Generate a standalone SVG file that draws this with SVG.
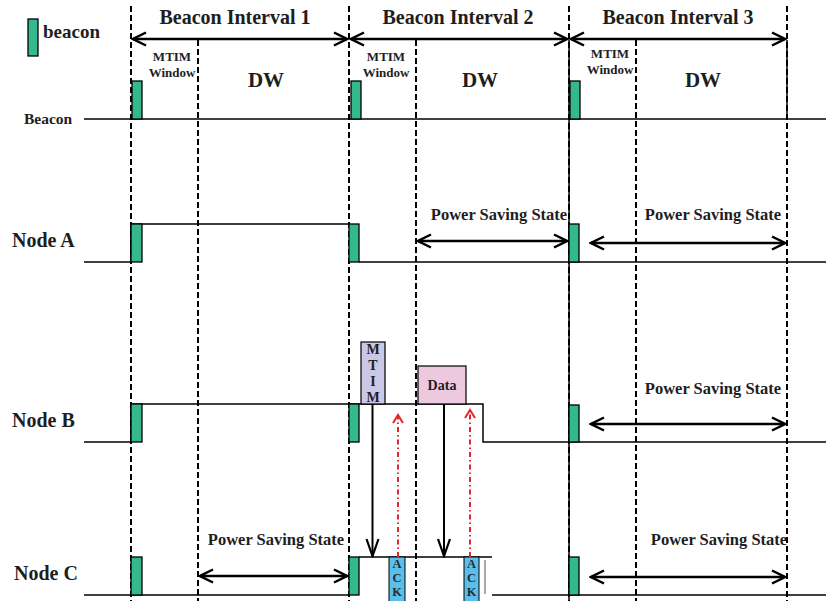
<svg xmlns="http://www.w3.org/2000/svg" width="826" height="601" viewBox="0 0 826 601">
<defs>
<style>
.t{font-family:"Liberation Serif","Times New Roman",serif;font-weight:bold;fill:#1e1e1e}
.hd{font-size:20px}
.mw{font-size:13px}
.dw{font-size:21px}
.ps{font-size:16.5px}
.nd{font-size:20px}
.vd{stroke:#000;stroke-width:2;stroke-dasharray:6 3;fill:none}
.sig{stroke:#000;stroke-width:1.5;fill:none}
.bc{fill:#34b98e;stroke:#000;stroke-width:1.3}
.arr{stroke:#000;stroke-width:2.5;fill:none;marker-start:url(#chev);marker-end:url(#chev)}
.dn{stroke:#000;stroke-width:2;fill:none;marker-end:url(#chevL)}
.up{stroke:#e3262b;stroke-width:2;stroke-dasharray:5 3 1.5 3;fill:none;marker-end:url(#chevR)}
.ack{fill:#5bbfea;stroke:#000;stroke-width:1}
.al{font-size:12.5px;fill:#2a2a2a}
</style>
<marker id="chev" viewBox="-15 -8 17 16" refX="0" refY="0" markerWidth="17" markerHeight="16" markerUnits="userSpaceOnUse" orient="auto-start-reverse">
<path d="M-13,-6.5 L0,0 L-13,6.5" fill="none" stroke="#000" stroke-width="2.5"/>
</marker>
<marker id="chevL" viewBox="-19 -8 21 16" refX="0" refY="0" markerWidth="21" markerHeight="16" markerUnits="userSpaceOnUse" orient="auto">
<path d="M-17,-6 L0,0 L-17,6" fill="none" stroke="#000" stroke-width="2.2"/>
</marker>
<marker id="chevR" viewBox="-10 -7 12 14" refX="0" refY="0" markerWidth="12" markerHeight="14" markerUnits="userSpaceOnUse" orient="auto">
<path d="M-8,-5 L0,0 L-8,5" fill="none" stroke="#e3262b" stroke-width="2"/>
</marker>
</defs>
<rect width="826" height="601" fill="#fff"/>

<g id="legend">
<rect class="bc" x="28" y="19" width="10" height="37"/>
<text class="t" x="43" y="38" font-size="19">beacon</text>
</g>

<g id="grid">
<line class="vd" x1="131" y1="6" x2="131" y2="601"/>
<line class="vd" x1="198" y1="40" x2="198" y2="601"/>
<line class="vd" x1="349" y1="6" x2="349" y2="601"/>
<line class="vd" x1="416" y1="40" x2="416" y2="601"/>
<line class="vd" x1="569" y1="6" x2="569" y2="601"/>
<line class="vd" x1="636" y1="40" x2="636" y2="601"/>
<line class="vd" x1="787" y1="6" x2="787" y2="601"/>
<line x1="569" y1="40" x2="569" y2="601" stroke="#000" stroke-width="1.5"/>
<line x1="787" y1="40" x2="787" y2="120" stroke="#000" stroke-width="1.5"/>
</g>

<g id="header">
<text class="t hd" x="235" y="24" text-anchor="middle">Beacon Interval 1</text>
<text class="t hd" x="458" y="24" text-anchor="middle">Beacon Interval 2</text>
<text class="t hd" x="678" y="24" text-anchor="middle">Beacon Interval 3</text>
<text class="t mw" x="172" y="61" text-anchor="middle">MTIM</text>
<text class="t mw" x="172" y="77" text-anchor="middle">Window</text>
<text class="t mw" x="386" y="61" text-anchor="middle">MTIM</text>
<text class="t mw" x="386" y="77" text-anchor="middle">Window</text>
<text class="t mw" x="610" y="58" text-anchor="middle">MTIM</text>
<text class="t mw" x="610" y="74" text-anchor="middle">Window</text>
<text class="t dw" x="266" y="87" text-anchor="middle">DW</text>
<text class="t dw" x="480" y="87" text-anchor="middle">DW</text>
<text class="t dw" x="703" y="87" text-anchor="middle">DW</text>
</g>

<g id="beacon-row">
<text class="t" x="24" y="124" font-size="15.5">Beacon</text>
<line class="sig" x1="84" y1="119" x2="826" y2="119"/>
<rect class="bc" x="132" y="81" width="10" height="38"/>
<rect class="bc" x="351" y="81" width="10" height="38"/>
<rect class="bc" x="570" y="81" width="10" height="38"/>
</g>

<g id="nodeA">
<text class="t nd" x="12" y="247">Node A</text>
<polyline class="sig" points="84,262 131,262 131,224 349,224"/>
<line class="sig" x1="359" y1="262" x2="826" y2="262"/>
<rect class="bc" x="131" y="224" width="11" height="38"/>
<rect class="bc" x="349" y="224" width="10" height="38"/>
<rect class="bc" x="569" y="224" width="10" height="38"/>
<text class="t ps" x="499" y="220" text-anchor="middle">Power Saving State</text>
<text class="t ps" x="713" y="220" text-anchor="middle">Power Saving State</text>
</g>

<g id="nodeB">
<text class="t nd" x="12" y="427">Node B</text>
<polyline class="sig" points="84,442 131,442 131,404 483,404 483,442 826,442"/>
<rect class="bc" x="131" y="404" width="11" height="38"/>
<rect class="bc" x="349" y="404" width="10" height="38"/>
<rect class="bc" x="569" y="405" width="10" height="37"/>
<g id="mtim-frame">
<rect x="361" y="342" width="24" height="62" fill="#c9c8e6" stroke="#000" stroke-width="1.2"/>
<text class="t" x="373" y="354" font-size="14" text-anchor="middle">M</text>
<text class="t" x="373" y="370" font-size="14" text-anchor="middle">T</text>
<text class="t" x="373" y="386" font-size="14" text-anchor="middle">I</text>
<text class="t" x="373" y="402" font-size="14" text-anchor="middle">M</text>
</g>
<g id="data-frame">
<rect x="418" y="366" width="48" height="38" fill="#ecc9de" stroke="#000" stroke-width="1.2"/>
<text class="t" x="442" y="390" font-size="14" text-anchor="middle">Data</text>
</g>
<text class="t ps" x="713" y="394" text-anchor="middle">Power Saving State</text>
</g>

<g id="nodeC">
<text class="t nd" x="14" y="580">Node C</text>
<line class="sig" x1="84" y1="595" x2="349" y2="595"/>
<line class="sig" x1="359" y1="557" x2="492" y2="557"/>
<line x1="485" y1="560" x2="485" y2="594" stroke="#555" stroke-width="1"/>
<line class="sig" x1="492" y1="595" x2="826" y2="595"/>
<rect class="bc" x="131" y="557" width="11" height="38"/>
<rect class="bc" x="349" y="557" width="10" height="38"/>
<rect class="bc" x="569" y="557" width="10" height="38"/>
<g id="ack1">
<rect class="ack" x="389" y="557" width="16" height="50"/>
<text class="t al" x="397" y="568" text-anchor="middle">A</text>
<text class="t al" x="397" y="582" text-anchor="middle">C</text>
<text class="t al" x="397" y="596" text-anchor="middle">K</text>
</g>
<g id="ack2">
<rect class="ack" x="464" y="557" width="15" height="50"/>
<text class="t al" x="471.500" y="568" text-anchor="middle">A</text>
<text class="t al" x="471.500" y="582" text-anchor="middle">C</text>
<text class="t al" x="471.500" y="596" text-anchor="middle">K</text>
</g>
<text class="t ps" x="276" y="545" text-anchor="middle">Power Saving State</text>
<text class="t ps" x="719" y="545" text-anchor="middle">Power Saving State</text>
</g>

<g id="connectors">
<line class="arr" x1="133" y1="39" x2="347" y2="39"/>
<line class="arr" x1="351" y1="39" x2="567" y2="39"/>
<line class="arr" x1="571" y1="39" x2="785" y2="39"/>
<line class="arr" x1="418" y1="241" x2="567" y2="241"/>
<line class="arr" x1="591" y1="243" x2="785" y2="243"/>
<line class="arr" x1="591" y1="424" x2="785" y2="424"/>
<line class="arr" x1="200" y1="576" x2="347" y2="576"/>
<line class="arr" x1="591" y1="577" x2="785" y2="577"/>
<line class="dn" x1="372.500" y1="404" x2="372.500" y2="556"/>
<line class="dn" x1="444" y1="404" x2="444" y2="556"/>
<line class="up" x1="398" y1="557" x2="398" y2="415"/>
<line class="up" x1="470" y1="557" x2="470" y2="410"/>
</g>
</svg>
